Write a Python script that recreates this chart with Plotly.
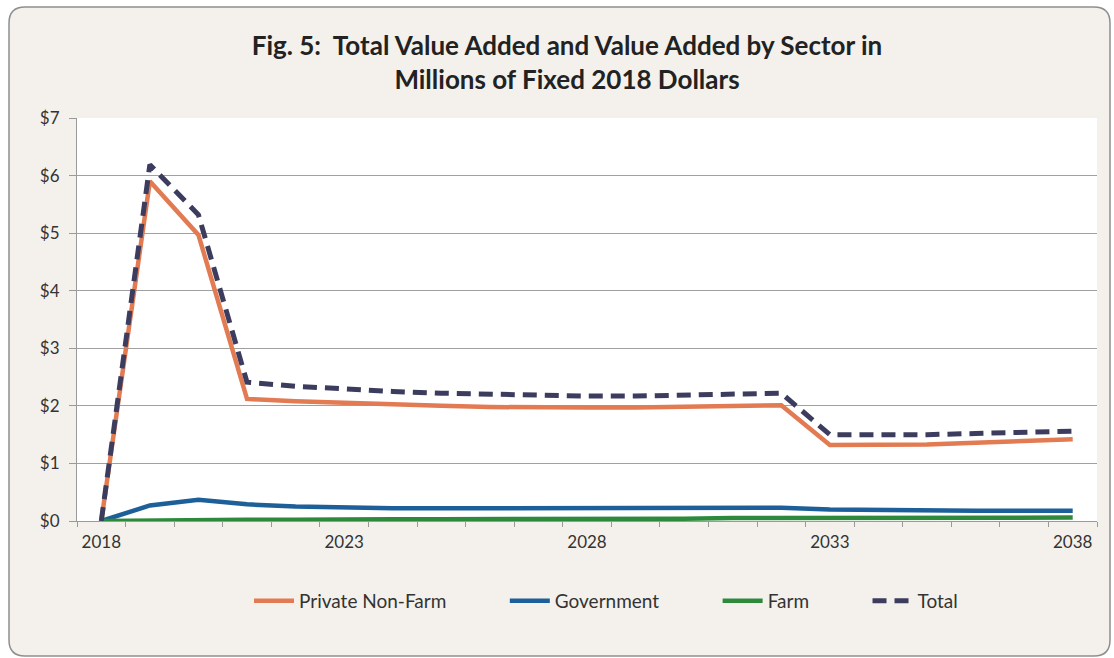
import plotly.graph_objects as go

years = list(range(2018, 2039))
private_non_farm = [0.0, 5.90, 4.97, 2.12, 2.08, 2.05, 2.02, 2.00, 1.98, 1.97, 1.97,
                    1.97, 1.98, 1.99, 2.01, 1.32, 1.32, 1.33, 1.36, 1.39, 1.42]
government = [0.0, 0.27, 0.37, 0.29, 0.25, 0.23, 0.22, 0.22, 0.22, 0.22, 0.22,
              0.22, 0.23, 0.23, 0.23, 0.20, 0.19, 0.19, 0.18, 0.18, 0.18]
farm = [0.0, 0.01, 0.02, 0.02, 0.02, 0.03, 0.03, 0.03, 0.03, 0.04, 0.04,
        0.04, 0.04, 0.05, 0.05, 0.05, 0.05, 0.05, 0.06, 0.06, 0.06]
total = [0.0, 6.19, 5.32, 2.41, 2.34, 2.29, 2.25, 2.22, 2.20, 2.18, 2.17,
         2.17, 2.18, 2.20, 2.22, 1.50, 1.49, 1.50, 1.52, 1.54, 1.56]

x_labels = [2018, 2023, 2028, 2033, 2038]
y_ticks = [0, 1, 2, 3, 4, 5, 6, 7]

series = [
    ("Private Non-Farm", private_non_farm, "#e27a52", "solid", 4.5),
    ("Government", government, "#1d5f98", "solid", 4.5),
    ("Farm", farm, "#2d8a3c", "solid", 4.5),
    ("Total", total, "#3c3d5e", "14px,8px", 5),
]

# extra room after each legend label (non-breaking spaces keep their width)
PAD = "\u00a0" * 11

fig = go.Figure()
for i, (name, vals, color, dash, width) in enumerate(series):
    label = name + (PAD if i < len(series) - 1 else "")
    fig.add_trace(go.Scatter(
        x=years, y=vals, name=label, mode="lines",
        line=dict(color=color, width=width, dash=dash),
    ))

# plot area in pixels: x 77-1097, y 118-521
L, R, T, B = 77, 1097, 118, 521
W, H = 1114, 658
pw, ph = R - L, B - T


def px(x):
    return (x - L) / pw


def py(y):
    return (B - y) / ph


# rounded outer frame
x0, x1, y0, y1 = px(9), px(1110), py(656), py(7)
rx, ry = 16 / pw, 16 / ph
frame = (f"M {x0+rx},{y1} L {x1-rx},{y1} Q {x1},{y1} {x1},{y1-ry} "
         f"L {x1},{y0+ry} Q {x1},{y0} {x1-rx},{y0} L {x0+rx},{y0} "
         f"Q {x0},{y0} {x0},{y0+ry} L {x0},{y1-ry} Q {x0},{y1} {x0+rx},{y1} Z")

fig.update_layout(
    width=W, height=H,
    margin=dict(l=L, r=W - R, t=T, b=H - B),
    paper_bgcolor="#ffffff",
    plot_bgcolor="#ffffff",
    font=dict(family="Lato, 'Open Sans', sans-serif", size=16, color="#333333"),
    title=dict(
        text="Fig. 5:  Total Value Added and Value Added by Sector in<br>Millions of Fixed 2018 Dollars",
        x=px(567), xanchor="center", y=1 - 55 / H, yanchor="middle",
        xref="paper",
        font=dict(family="Lato", size=26, color="#222222", weight="bold"),
    ),
    shapes=[
        dict(type="path", path=frame, xref="paper", yref="paper",
             fillcolor="#f4f1ec", line=dict(color="#8f8f8f", width=1.5), layer="below"),
        dict(type="rect", x0=0, x1=1, y0=0, y1=1, xref="paper", yref="paper",
             fillcolor="#ffffff", line=dict(width=0), layer="below"),
    ],
    legend=dict(
        orientation="h", x=px(606), xanchor="center", y=py(601), yanchor="middle",
        bgcolor="rgba(0,0,0,0)", font=dict(size=19, color="#333333"),
        itemwidth=40, tracegroupgap=0,
    ),
    showlegend=True,
)

fig.update_xaxes(
    range=[2017.5, 2038.5],
    tickmode="array", tickvals=x_labels, ticktext=[str(v) for v in x_labels],
    ticks="", showgrid=False, zeroline=False,
    showline=True, linecolor="#9a9a9a", linewidth=1,
    minor=dict(tickmode="linear", tick0=2017.5, dtick=1, ticks="outside",
               ticklen=5, tickcolor="#9a9a9a", showgrid=False),
    tickfont=dict(size=17),
    ticklabelstandoff=6,
)
fig.update_yaxes(
    range=[0, 7], tickvals=y_ticks, ticktext=[f"${v}" for v in y_ticks],
    ticks="outside", ticklen=7, tickcolor="#9a9a9a",
    showgrid=True, gridcolor="#a0a0a0", gridwidth=1, zeroline=False,
    showline=True, linecolor="#9a9a9a", linewidth=1,
    tickfont=dict(size=17),
    ticklabelstandoff=6,
)

fig.write_html("out.html")
